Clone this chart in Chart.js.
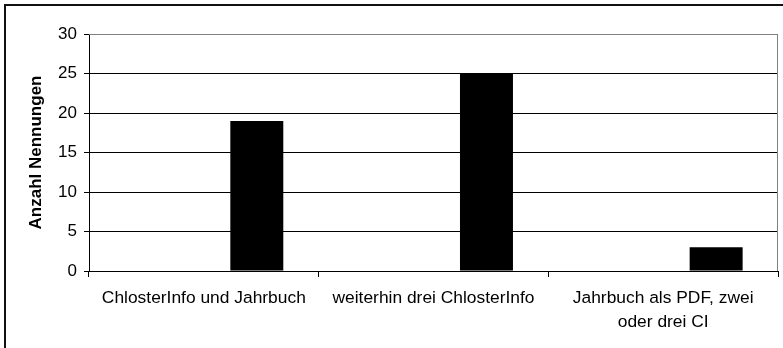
<!DOCTYPE html>
<html>
<head>
<meta charset="utf-8">
<script src="https://cdn.jsdelivr.net/npm/chart.js@4"></script>
<style>
  body { margin: 0; background: #fff; }
</style>
</head>
<body>
<canvas id="chart" width="783" height="348"></canvas>
<script>
// categories and values
const categories = [
    'ChlosterInfo und Jahrbuch',
    'weiterhin drei ChlosterInfo',
    ['Jahrbuch als PDF, zwei', 'oder drei CI']
];
const serie1 = [null, null, null];
const serie2 = [null, null, null];
const nennungen = [19, 25, 3];
const yTicks = [0, 5, 10, 15, 20, 25, 30];

const font = { family: '"Liberation Sans", Arial, sans-serif', size: 17 };

// outer frame + grey plot border
const frame = {
    id: 'frame',
    afterDraw(chart) {
        const ctx = chart.ctx;
        const a = chart.chartArea;
        ctx.save();
        ctx.strokeStyle = '#808080';
        ctx.lineWidth = 1;
        ctx.beginPath();
        ctx.moveTo(a.left, a.top + 0.5);
        ctx.lineTo(a.right - 0.5, a.top + 0.5);
        ctx.lineTo(a.right - 0.5, a.bottom);
        ctx.stroke();
        ctx.strokeStyle = '#111';
        ctx.lineWidth = 2;
        ctx.beginPath();
        ctx.moveTo(5, 360);
        ctx.lineTo(5, 5);
        ctx.lineTo(800, 5);
        ctx.stroke();
        ctx.restore();
    }
};

new Chart(document.getElementById('chart'), {
    type: 'bar',
    data: {
        labels: categories,
        datasets: [
            { label: 'Serie 1', data: serie1, backgroundColor: '#000' },
            { label: 'Serie 2', data: serie2, backgroundColor: '#000' },
            { label: 'Nennungen', data: nennungen, backgroundColor: '#000' }
        ]
    },
    options: {
        responsive: false,
        animation: false,
        layout: { padding: { top: 34, right: 5, left: 0, bottom: 0 } },
        plugins: { legend: { display: false }, tooltip: { enabled: false } },
        datasets: { bar: { barPercentage: 1, categoryPercentage: 0.692 } },
        scales: {
            x: {
                grid: { offset: true, drawOnChartArea: false, color: '#000', tickLength: 6 },
                border: { color: '#000', width: 1 },
                ticks: {
                    color: '#000',
                    font: { family: font.family, size: 17.4, lineHeight: 1.4 },
                    padding: 9, maxRotation: 0, autoSkip: false
                },
                afterFit(s) { s.height = 77; }
            },
            y: {
                min: 0,
                max: 30,
                afterBuildTicks(s) { s.ticks = yTicks.map(v => ({ value: v })); },
                grid: {
                    color: c => c.tick && c.tick.value === 30 ? '#808080' : '#000',
                    tickColor: '#000',
                    tickLength: 5
                },
                border: { color: '#000', width: 1 },
                ticks: { color: '#000', font: font, padding: 7 },
                title: {
                    display: true,
                    text: 'Anzahl Nennungen',
                    color: '#000',
                    font: { family: font.family, size: 17, weight: 'bold' },
                    padding: { top: 26, bottom: 0 }
                },
                afterFit(s) { s.width = 89; }
            }
        }
    },
    plugins: [frame]
});
</script>
</body>
</html>
